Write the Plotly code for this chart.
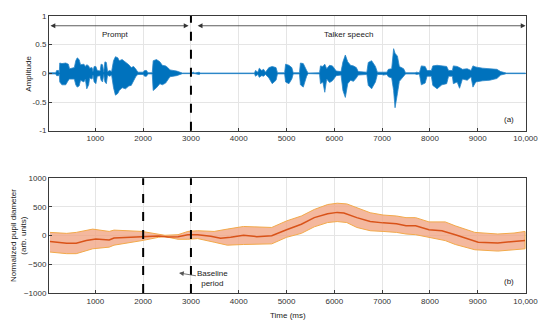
import plotly.graph_objects as go
from plotly.subplots import make_subplots

# ---------------- data ----------------
# Speech waveform envelope (time ms, upper amplitude, lower amplitude)
wave_t = [30, 170, 190, 230, 245, 255, 300, 380, 435, 460, 560, 590, 620, 660, 690, 760, 790, 820, 860, 880,
          930, 950, 975, 1010, 1040, 1100, 1120, 1150, 1175, 1200, 1230, 1255, 1300, 1340, 1380, 1420, 1470,
          1500, 1560, 1630, 1700, 1750, 1800, 1850, 1890, 2000, 2030, 2070, 2100, 2190, 2210, 2280, 2350,
          2400, 2470, 2530, 2560, 2700, 2820, 3000, 3050, 3080, 3170, 3200, 4330, 4350, 4400, 4430, 4480,
          4520, 4560, 4630, 4700, 4780, 4810, 4960, 4980, 5050, 5110, 5140, 5270, 5290, 5350, 5420, 5450,
          5690, 5710, 5760, 5800, 5840, 5900, 5960, 6040, 6140, 6180, 6230, 6280, 6340, 6400, 6460, 6500,
          6680, 6710, 6780, 6860, 6900, 7000, 7020, 7100, 7130, 7200, 7240, 7270, 7320, 7360, 7450, 7490,
          7690, 7720, 7780, 7820, 7900, 7940, 8030, 8060, 8150, 8250, 8350, 8390, 8470, 8490, 8570, 8620,
          8680, 8780, 8860, 8900, 8960, 9100, 9250, 9400, 9480, 9550, 9600, 10000]
wave_top = [0.01, 0.01, 0.05, 0.05, 0.01, 0.18, 0.17, 0.18, 0.16, 0.08, 0.1, 0.22, 0.27, 0.24, 0.15, 0.16, 0.12,
            0.15, 0.13, 0.09, 0.1, 0.03, 0.12, 0.12, 0.05, 0.04, 0.16, 0.15, 0.02, 0.2, 0.19, 0.03, 0.05, 0.03,
            0.22, 0.29, 0.27, 0.22, 0.24, 0.2, 0.15, 0.1, 0.12, 0.07, 0.02, 0.02, 0.05, 0.05, 0.01, 0.01, 0.22,
            0.24, 0.2, 0.14, 0.13, 0.09, 0.06, 0.04, 0.005, 0.005, 0.02, 0.005, 0.02, 0.005, 0.005, 0.05, 0.02,
            0.09, 0.05, 0.07, 0.02, 0.1, 0.12, 0.1, 0.01, 0.01, 0.16, 0.14, 0.1, 0.01, 0.01, 0.18, 0.17, 0.05,
            0.005, 0.01, 0.13, 0.12, 0.16, 0.08, 0.14, 0.13, 0.04, 0.03, 0.2, 0.32, 0.2, 0.14, 0.13, 0.1, 0.03,
            0.02, 0.19, 0.22, 0.12, 0.02, 0.02, 0.03, 0.02, 0.07, 0.08, 0.43, 0.35, 0.3, 0.12, 0.08, 0.01,
            0.01, 0.02, 0.01, 0.13, 0.12, 0.05, 0.05, 0.13, 0.14, 0.13, 0.12, 0.05, 0.05, 0.13, 0.12, 0.1,
            0.07, 0.08, 0.05, 0.13, 0.11, 0.09, 0.08, 0.07, 0.03, 0.02, 0.005, 0.005]
wave_bot = [-0.01, -0.01, -0.04, -0.04, -0.01, -0.15, -0.2, -0.2, -0.12, -0.1, -0.1, -0.2, -0.24, -0.22, -0.12,
            -0.15, -0.1, -0.27, -0.2, -0.08, -0.1, -0.03, -0.15, -0.18, -0.05, -0.04, -0.12, -0.15, -0.02,
            -0.15, -0.18, -0.03, -0.05, -0.03, -0.25, -0.38, -0.35, -0.3, -0.25, -0.27, -0.22, -0.21, -0.12,
            -0.05, -0.02, -0.02, -0.05, -0.05, -0.01, -0.01, -0.3, -0.25, -0.18, -0.2, -0.17, -0.1, -0.06,
            -0.04, -0.005, -0.005, -0.01, -0.005, -0.02, -0.005, -0.005, -0.05, -0.02, -0.07, -0.04, -0.05,
            -0.02, -0.08, -0.18, -0.12, -0.01, -0.01, -0.15, -0.18, -0.1, -0.01, -0.01, -0.2, -0.24, -0.05,
            -0.005, -0.01, -0.18, -0.15, -0.33, -0.1, -0.16, -0.13, -0.04, -0.03, -0.3, -0.42, -0.18, -0.12,
            -0.14, -0.08, -0.03, -0.02, -0.21, -0.27, -0.15, -0.02, -0.02, -0.03, -0.02, -0.06, -0.08, -0.3,
            -0.6, -0.35, -0.14, -0.05, -0.01, -0.01, -0.02, -0.01, -0.2, -0.17, -0.05, -0.05, -0.21, -0.27,
            -0.2, -0.18, -0.05, -0.05, -0.18, -0.15, -0.26, -0.1, -0.12, -0.06, -0.24, -0.15, -0.13, -0.12,
            -0.09, -0.03, -0.02, -0.005, -0.005]

# Pupil mean trace
pupil_t = [50, 400, 600, 810, 1010, 1290, 1390, 1770, 1975, 2320, 2520, 2730, 2935, 3140, 3415, 3620, 3830,
           4100, 4375, 4690, 5000, 5310, 5580, 5860, 6060, 6200, 6470, 6750, 7020, 7300, 7500, 7700, 7980,
           8250, 8530, 8800, 9010, 9420, 9760, 9990]
pupil_mean = [-103, -131, -131, -86, -57, -74, -40, -23, -11, -6, -23, -17, 17, 17, -11, -46, -29, 6, -17, 0,
              103, 200, 314, 383, 406, 394, 314, 246, 223, 206, 171, 171, 103, 86, 17, -57, -114, -126, -103, -86]

# Pupil confidence band
band_t = [50, 400, 600, 945, 1290, 1390, 1975, 2320, 2455, 2730, 2935, 3140, 3485, 3760, 4100, 4690, 5000,
          5310, 5580, 5860, 6060, 6260, 6470, 6750, 7020, 7300, 7500, 7700, 7980, 8320, 8530, 8940, 9420,
          9760, 9990]
band_hi = [57, 40, 57, 114, 74, 97, 74, 17, 6, 17, 74, 86, 74, 114, 160, 143, 257, 343, 457, 543, 566, 554,
           486, 400, 360, 343, 314, 314, 240, 240, 171, 57, 29, 46, 74]
band_lo = [-286, -314, -314, -229, -200, -166, -86, -29, -17, -63, -63, -51, -114, -166, -154, -143, -29, 40,
           154, 229, 246, 229, 143, 86, 74, 57, 29, 17, -29, -86, -154, -246, -269, -246, -229]

x_ticks = [1000, 2000, 3000, 4000, 5000, 6000, 7000, 8000, 9000, 10000]
x_tick_text = ["1000", "2000", "3000", "4000", "5000", "6000", "7000", "8000", "9000", "10,000"]
amp_ticks = [-1, -0.5, 0, 0.5, 1]
pupil_ticks = [-1000, -500, 0, 500, 1000]

top_markers = [3000]
bottom_markers = [2000, 3000]
segments = [("Prompt", 30, 2950, 1430), ("Talker speech", 3110, 10000, 6290)]

# ---------------- figure ----------------
FONT = "Liberation Sans, Arial, sans-serif"
fig = make_subplots(rows=2, cols=1)

fig.add_trace(go.Scatter(
    x=wave_t + wave_t[::-1], y=wave_top + wave_bot[::-1], fill="toself",
    fillcolor="#0072BD", line=dict(color="#2b86c8", width=0.8), mode="lines",
    hoverinfo="skip", showlegend=False), row=1, col=1)

fig.add_trace(go.Scatter(
    x=band_t + band_t[::-1], y=band_hi + band_lo[::-1], fill="toself",
    fillcolor="rgba(240,160,125,0.75)", line=dict(color="#F2A94A", width=1), mode="lines",
    hoverinfo="skip", showlegend=False), row=2, col=1)
fig.add_trace(go.Scatter(
    x=pupil_t, y=pupil_mean, mode="lines", line=dict(color="#D95319", width=1.5),
    showlegend=False), row=2, col=1)

axis_common = dict(showgrid=True, gridcolor="#e5e5e5", gridwidth=1, zeroline=False,
                   showline=True, linecolor="#3a3a3a", linewidth=1, mirror=True,
                   ticks="inside", ticklen=3, tickcolor="#3a3a3a",
                   tickfont=dict(family=FONT, size=8, color="#333"))

fig.update_xaxes(range=[30, 10010], tickvals=x_ticks, ticktext=x_tick_text, **axis_common)
fig.update_yaxes(**axis_common)
fig.update_yaxes(range=[-1, 1], tickvals=amp_ticks, ticktext=["-1", "-0.5", "0", "0.5", "1"], row=1, col=1)
fig.update_yaxes(range=[-1000, 1000], tickvals=pupil_ticks, row=2, col=1)

fig.update_layout(
    width=550, height=325, margin=dict(l=49, r=17, t=13, b=32),
    plot_bgcolor="white", paper_bgcolor="white", showlegend=False,
    font=dict(family=FONT, size=8, color="#222"),
)
fig.layout.yaxis.domain = [0.586, 1.0]
fig.layout.yaxis2.domain = [0.0, 0.414]

for xm in top_markers:
    fig.add_shape(type="line", x0=xm, x1=xm, y0=0, y1=1, xref="x", yref="y domain",
                  line=dict(color="black", width=2, dash="dash"))
for xm in bottom_markers:
    fig.add_shape(type="line", x0=xm, x1=xm, y0=0, y1=1, xref="x2", yref="y2 domain",
                  line=dict(color="black", width=2, dash="dash"))

for label, s, e, lx in segments:
    fig.add_annotation(x=e, y=0.83, ax=s, ay=0.83, xref="x", yref="y", axref="x", ayref="y",
                       text="", showarrow=True, arrowhead=2, startarrowhead=2, arrowside="end+start",
                       arrowsize=1.2, arrowwidth=0.8, arrowcolor="#333")
    fig.add_annotation(x=lx, y=0.68, xref="x", yref="y", text=label, showarrow=False,
                       font=dict(family=FONT, size=8, color="#222"))

fig.add_annotation(x=9650, y=-0.8, xref="x", yref="y", text="(a)", showarrow=False,
                   font=dict(family=FONT, size=8, color="#222"))
fig.add_annotation(x=9650, y=-800, xref="x2", yref="y2", text="(b)", showarrow=False,
                   font=dict(family=FONT, size=8, color="#222"))

fig.add_annotation(x=2750, y=-650, ax=3460, ay=-750, xref="x2", yref="y2", axref="x2", ayref="y2",
                   text="Baseline<br>period", showarrow=True, arrowhead=2, arrowsize=1.2,
                   arrowwidth=0.8, arrowcolor="#555", font=dict(family=FONT, size=8, color="#222"))

# axis titles (paper coordinates relative to the plot area)
title_font = dict(family=FONT, size=8, color="#222")
fig.add_annotation(x=(28 - 49) / 484, y=(293 - 71) / 280, xref="paper", yref="paper",
                   text="Amplitude", textangle=-90, xanchor="center", yanchor="middle",
                   showarrow=False, font=title_font)
fig.add_annotation(x=(18 - 49) / 484, y=(293 - 235) / 280, xref="paper", yref="paper",
                   text="Normalized pupil diameter<br>(arb. units)", textangle=-90,
                   xanchor="center", yanchor="middle", showarrow=False, font=title_font)
fig.add_annotation(x=0.5, y=(293 - 316) / 280, xref="paper", yref="paper", text="Time (ms)",
                   xanchor="center", yanchor="middle", showarrow=False, font=title_font)

fig.write_html("out.html", config={"displayModeBar": False},
               post_script="document.body.style.margin='0';document.body.style.overflow='hidden';")
